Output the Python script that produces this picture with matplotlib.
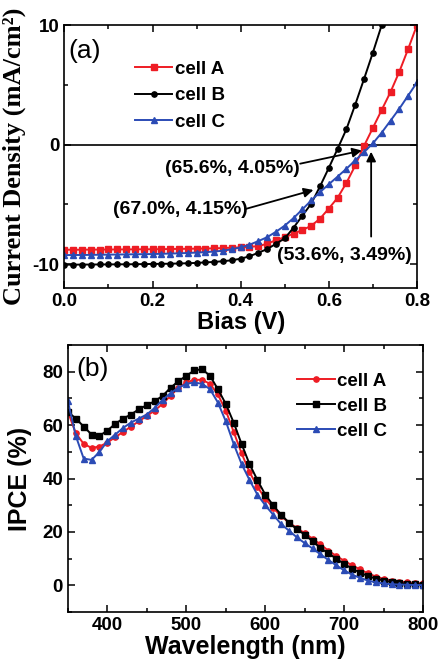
import matplotlib
matplotlib.use("Agg")
import matplotlib.pyplot as plt
from matplotlib.ticker import MultipleLocator

plt.rcParams['font.family'] = ['Liberation Sans', 'DejaVu Sans']

RED = '#ee1c24'
BLUE = '#2b4bb5'

# (a) J-V curves
bias = [0.00, 0.02, 0.04, 0.06, 0.08, 0.10, 0.12, 0.14, 0.16, 0.18,
        0.20, 0.22, 0.24, 0.26, 0.28, 0.30, 0.32, 0.34, 0.36, 0.38,
        0.40, 0.42, 0.44, 0.46, 0.48, 0.50, 0.52, 0.54, 0.56, 0.58,
        0.60, 0.62, 0.64, 0.66, 0.68, 0.70, 0.72, 0.74, 0.76, 0.78, 0.80]
jv_a = [-8.80, -8.80, -8.80, -8.79, -8.79, -8.78, -8.78, -8.77, -8.77, -8.76,
        -8.76, -8.75, -8.74, -8.73, -8.72, -8.71, -8.70, -8.68, -8.66, -8.63,
        -8.60, -8.56, -8.50, -8.30, -8.00, -7.75, -7.45, -7.15, -6.80, -6.20,
        -5.35, -4.45, -3.20, -1.75, -0.10, 1.40, 2.90, 4.40, 6.10, 8.00, 10.00]
bias_b = bias[:37]
jv_b = [-10.05, -10.05, -10.04, -10.04, -10.03, -10.03, -10.02, -10.02, -10.01, -10.00,
        -9.99, -9.98, -9.97, -9.95, -9.93, -9.90, -9.86, -9.82, -9.76, -9.68,
        -9.55, -9.35, -9.05, -8.75, -8.30, -7.85, -6.95, -5.95, -4.95, -3.50,
        -1.95, -0.35, 1.30, 3.35, 5.50, 7.70, 10.00]
jv_c = [-9.25, -9.24, -9.24, -9.23, -9.22, -9.21, -9.20, -9.19, -9.18, -9.17,
        -9.16, -9.14, -9.12, -9.10, -9.07, -9.04, -9.00, -8.95, -8.88, -8.76,
        -8.60, -8.38, -8.08, -7.75, -7.30, -6.78, -6.15, -5.42, -4.68, -3.98,
        -3.32, -2.68, -2.02, -1.32, -0.62, 0.10, 1.00, 2.00, 3.00, 4.10, 5.20]

# (b) IPCE spectra
wavelength = [350, 360, 370, 380, 390, 400, 410, 420, 430, 440,
              450, 460, 470, 480, 490, 500, 510, 520, 530, 540,
              550, 560, 570, 580, 590, 600, 610, 620, 630, 640,
              650, 660, 670, 680, 690, 700, 710, 720, 730, 740,
              750, 760, 770, 780, 790, 800]
ipce_a = [65.0, 57.0, 53.0, 51.5, 52.0, 53.5, 55.5, 57.5, 59.5, 61.5,
          63.5, 65.5, 68.0, 71.0, 74.0, 76.0, 77.0, 77.0, 75.5, 71.5,
          65.5, 57.5, 49.5, 42.5, 37.0, 32.5, 29.0, 26.0, 23.5, 21.5,
          19.5, 17.5, 15.3, 13.0, 11.0, 9.2, 7.5, 6.0, 4.5, 3.3,
          2.4, 1.8, 1.4, 1.1, 0.9, 0.7]
ipce_b = [65.0, 62.5, 59.5, 56.5, 56.0, 58.0, 60.5, 62.5, 64.0, 66.0,
          67.5, 69.0, 71.0, 74.0, 76.5, 78.5, 80.5, 81.0, 78.5, 73.5,
          68.0, 61.0, 53.0, 45.5, 39.5, 34.0, 30.0, 26.5, 23.5, 21.0,
          19.0, 16.5, 14.0, 12.0, 10.0, 8.0, 6.3, 4.8, 3.5, 2.5,
          1.8, 1.2, 0.8, 0.6, 0.4, 0.3]
ipce_c = [69.0, 56.0, 47.5, 47.0, 50.0, 54.0, 56.5, 59.0, 61.0, 62.5,
          64.0, 66.5, 69.5, 72.0, 74.0, 75.5, 76.0, 75.5, 73.5, 68.5,
          61.5, 53.0, 45.5, 39.5, 34.0, 30.0, 26.5, 23.0, 20.5, 18.0,
          15.8, 13.8, 11.6, 9.5, 7.5, 5.6, 4.0, 2.8, 1.8, 1.1,
          0.7, 0.4, 0.3, 0.2, 0.1, 0.1]

# annotation labels (FF, PCE) with text position, arrow tail and head
notes = [
    ("(65.6%, 4.05%)", (0.382, -2.0), (0.535, -1.6), (0.675, -0.5)),
    ("(67.0%, 4.15%)", (0.263, -5.4), (0.41, -5.4), (0.565, -3.8)),
    ("(53.6%, 3.49%)", (0.635, -9.3), (0.696, -7.7), (0.696, -0.6)),
]


def style_axis(ax):
    ax.tick_params(which='both', direction='in', top=True, right=True,
                   labelsize=13.5, width=1.1)
    ax.tick_params(which='major', length=5)
    ax.tick_params(which='minor', length=3)
    for lab in ax.get_xticklabels() + ax.get_yticklabels():
        lab.set_fontweight('bold')
    for s in ax.spines.values():
        s.set_linewidth(1.2)


fig = plt.figure(figsize=(4.38, 6.59), dpi=100)
ax1 = fig.add_axes([0.147, 0.563, 0.805, 0.399])
ax2 = fig.add_axes([0.155, 0.0713, 0.811, 0.405])

# ---- panel (a)
ax1.axhline(0, color='k', lw=1.2)
ax1.plot(bias, jv_a, color=RED, marker='s', ms=3.8, lw=1.4, label='cell A')
ax1.plot(bias_b, jv_b, color='k', marker='o', ms=3.8, lw=1.4, label='cell B')
ax1.plot(bias, jv_c, color=BLUE, marker='^', ms=4.2, lw=1.4, label='cell C')
ax1.set_xlim(0, 0.8)
ax1.set_ylim(-12, 10)
ax1.xaxis.set_major_locator(MultipleLocator(0.2))
ax1.xaxis.set_minor_locator(MultipleLocator(0.1))
ax1.yaxis.set_major_locator(MultipleLocator(10))
ax1.yaxis.set_minor_locator(MultipleLocator(5))
ax1.set_xticks([0, 0.2, 0.4, 0.6, 0.8], ['0.0', '0.2', '0.4', '0.6', '0.8'])
ax1.set_yticks([-10, 0, 10], ['-10', '0', '10'])
style_axis(ax1)
ax1.set_xlabel('Bias (V)', fontsize=17, fontweight='bold', labelpad=1)
ax1.set_ylabel('Current Density (mA/cm²)', fontsize=19, fontweight='bold',
               family=['Liberation Serif', 'DejaVu Serif'])
ax1.yaxis.set_label_coords(-0.11, 0.5)
ax1.text(0.012, 0.9, '(a)', transform=ax1.transAxes, fontsize=19, va='center')
ax1.legend(loc='upper left', bbox_to_anchor=(0.2, 0.865), frameon=False,
           prop={'weight': 'bold', 'size': 13.5},
           handlelength=2.0, handletextpad=0.15, labelspacing=0.5,
           borderpad=0, borderaxespad=0)
for label, txt_pos, tail, head in notes:
    ax1.text(txt_pos[0], txt_pos[1], label, fontsize=14, fontweight='bold',
             ha='center', va='center')
    ax1.annotate('', xy=head, xytext=tail,
                 arrowprops=dict(arrowstyle='-|>', color='k', lw=1.3,
                                 mutation_scale=14, shrinkA=0, shrinkB=0))

# ---- panel (b)
ax2.plot(wavelength, ipce_a, color=RED, marker='o', ms=3.8, lw=1.4, label='cell A')
ax2.plot(wavelength, ipce_b, color='k', marker='s', ms=3.8, lw=1.4, label='cell B')
ax2.plot(wavelength, ipce_c, color=BLUE, marker='^', ms=4.2, lw=1.4, label='cell C')
ax2.set_xlim(350, 800)
ax2.set_ylim(-10, 90)
ax2.xaxis.set_major_locator(MultipleLocator(100))
ax2.xaxis.set_minor_locator(MultipleLocator(50))
ax2.yaxis.set_major_locator(MultipleLocator(20))
ax2.yaxis.set_minor_locator(MultipleLocator(10))
ax2.set_xticks([400, 500, 600, 700, 800])
ax2.set_yticks([0, 20, 40, 60, 80])
style_axis(ax2)
ax2.set_xlabel('Wavelength (nm)', fontsize=18, fontweight='bold', labelpad=1)
ax2.set_ylabel('IPCE (%)', fontsize=18, fontweight='bold', labelpad=7)
ax2.text(0.025, 0.91, '(b)', transform=ax2.transAxes, fontsize=19, va='center')
ax2.legend(loc='upper left', bbox_to_anchor=(0.645, 0.897), frameon=False,
           prop={'weight': 'bold', 'size': 13.5},
           handlelength=2.0, handletextpad=0.15, labelspacing=0.42,
           borderpad=0, borderaxespad=0)

fig.savefig('out.png', dpi=100)
